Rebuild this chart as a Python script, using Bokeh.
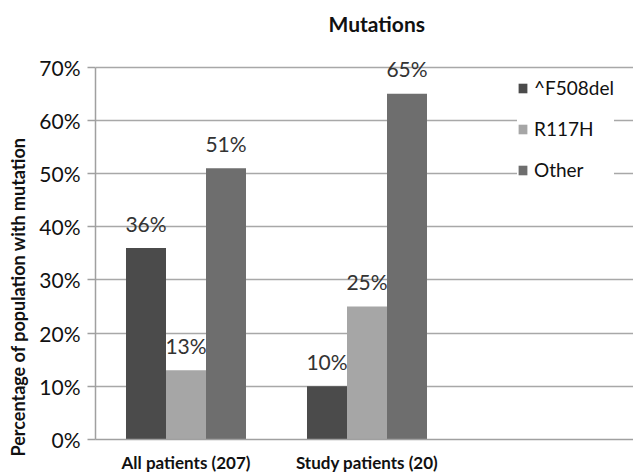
from bokeh.plotting import figure
from bokeh.models import ColumnDataSource, FixedTicker, Legend, LegendItem, Range1d, Title
from bokeh.core.properties import value
from bokeh.embed import file_html
from bokeh.resources import INLINE

categories = ["All patients (207)", "Study patients (20)"]
series = ["^F508del", "R117H", "Other"]
f508del = [36, 10]
r117h = [13, 25]
other = [51, 65]
values = [f508del, r117h, other]
colors = ["#4b4b4b", "#a6a6a6", "#6e6e6e"]
y_ticks = [0, 10, 20, 30, 40, 50, 60, 70]

FONT = "Lato"
BAR_W = 0.221
offsets = [-BAR_W, 0.0, BAR_W]
centers = [0.5 + i for i in range(len(categories))]

# frame: x 95..633 (538 px, 181 px per category), y 0..70 over 443..65 (5.4 px per %)
p = figure(width=633, height=475, output_backend="svg", toolbar_location=None,
           x_range=Range1d(0, 538 / 181), y_range=Range1d(0, 70 + 20 / 5.4),
           min_border_left=95, min_border_top=45, min_border_right=0, min_border_bottom=32)
p.outline_line_color = None
p.background_fill_color = "white"
p.border_fill_color = "white"

p.title.text = "Mutations"
p.title.text_font = FONT
p.title.text_font_style = "bold"
p.title.text_font_size = "21px"
p.title.text_color = "#111111"
p.title.align = "left"
p.title.offset = 233
p.title.standoff = 20
p.title.vertical_align = "top"

renderers = []
for s, vals, col, off in zip(series, values, colors, offsets):
    xs = [c + off for c in centers]
    src = ColumnDataSource(dict(x=xs, top=vals, lab=[f"{v}%" for v in vals]))
    r = p.vbar(x="x", top="top", width=BAR_W, bottom=0, source=src,
               fill_color=col, line_color=None)
    renderers.append((s, r))
    p.text(x="x", y="top", text="lab", source=src, text_align="center",
           text_baseline="middle", y_offset=-25, text_font=value(FONT),
           text_font_size="21px", text_color="#333333")

# axes
p.xgrid.visible = False
p.ygrid.ticker = FixedTicker(ticks=y_ticks)
p.ygrid.grid_line_color = "#a8a8a8"
p.ygrid.grid_line_width = 1.5

p.yaxis.ticker = FixedTicker(ticks=y_ticks)
p.yaxis.bounds = (0, 70)
p.yaxis.major_label_overrides = {t: f"{t}%" for t in y_ticks}
p.yaxis.major_label_text_font = FONT
p.yaxis.major_label_text_font_size = "21px"
p.yaxis.major_label_text_color = "#111111"
p.yaxis.axis_line_color = "#a0a0a0"
p.yaxis.axis_line_width = 1.5
p.yaxis.major_tick_line_color = "#a0a0a0"
p.yaxis.major_tick_line_width = 1.5
p.yaxis.major_tick_out = 8
p.yaxis.major_tick_in = 0
p.yaxis.minor_tick_line_color = None
p.yaxis.major_label_standoff = 7

ylab = Title(text="Percentage of population with mutation", align="left", offset=-17,
             standoff=11, vertical_align="top", text_font=FONT, text_font_style="bold",
             text_font_size="18px", text_color="#111111")
p.add_layout(ylab, "left")

p.xaxis.ticker = FixedTicker(ticks=centers)
p.xaxis.major_label_overrides = {c: n for c, n in zip(centers, categories)}
p.xaxis.major_label_text_font = FONT
p.xaxis.major_label_text_font_style = "bold"
p.xaxis.major_label_text_font_size = "17px"
p.xaxis.major_label_text_color = "#111111"
p.xaxis.axis_line_color = "#a0a0a0"
p.xaxis.axis_line_width = 1.5
p.xaxis.major_tick_line_color = None
p.xaxis.minor_tick_line_color = None
p.xaxis.major_tick_out = 0
p.xaxis.major_label_standoff = 12

legend = Legend(items=[LegendItem(label=s, renderers=[r]) for s, r in renderers],
                location=(422, 258), background_fill_color="white", background_fill_alpha=1.0,
                border_line_color=None, label_text_font=FONT, label_text_font_size="19px",
                label_text_color="#111111", glyph_width=11, glyph_height=12,
                label_height=20, spacing=18, padding=5, margin=0, label_standoff=6)
p.add_layout(legend)

open("out.html", "w").write(file_html(p, INLINE))
